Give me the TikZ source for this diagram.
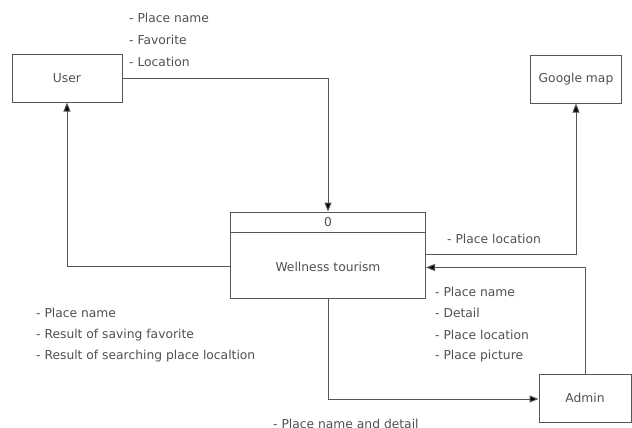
\documentclass[tikz,border=0pt]{standalone}
\usepackage{fontspec}
\setmainfont{DejaVu Sans}
\usetikzlibrary{arrows.meta}
\definecolor{ln}{HTML}{555555}
\definecolor{tx}{HTML}{505050}
\begin{document}
\begin{tikzpicture}[x=1pt,y=-1pt,
  box/.style={draw=ln,line width=1pt,inner sep=0pt},
  lbl/.style={text=tx,font=\fontsize{12.3}{14}\selectfont,anchor=west,inner sep=0pt},
  con/.style={draw=ln,line width=1pt,-{Triangle[length=9pt,width=7pt,fill=black]}},
  txt/.style={text=tx,font=\fontsize{12.3}{14}\selectfont}]
\useasboundingbox (0,0) rectangle (632,428);
\clip (0,0) rectangle (632,428);
% boxes
\node[box,minimum width=110pt,minimum height=47pt] (user) at (67,78.5) {};
\node[txt] at (user.center) {User};
\node[box,minimum width=91pt,minimum height=47pt] (gmap) at (576,79.5) {};
\node[txt] at (gmap.center) {Google map};
\node[box,minimum width=92pt,minimum height=48pt] (admin) at (585,398) {};
\node[txt] at (admin.center) {Admin};
\node[box,minimum width=195pt,minimum height=86pt] (wt) at (328,255) {};
\draw[ln,line width=1pt] (230.5,232) -- (425.5,232);
\node[txt] (wtid) at (328,222.5) {0};
\node[txt] (wtname) at (328,267) {Wellness tourism};
% connectors
\coordinate (c1) at (328,79);
\draw[con] (user.east |- c1) -- (c1) -- (wt.north);
\coordinate (c2) at (67,266);
\draw[con] (wt.west |- c2) -- (c2) -- (user.south);
\coordinate (c3) at (576,254);
\draw[con] (wt.east |- c3) -- (c3) -- (gmap.south);
\coordinate (c4) at (585,267.5);
\draw[con] (admin.north) -- (c4) -- (wt.east |- c4);
\coordinate (c5) at (328,399);
\draw[con] (wt.south) -- (c5) -- (admin.west |- c5);
% labels
\node[lbl] (l1) at (129,18) {- Place name};
\node[lbl] (l2) at (129,40) {- Favorite};
\node[lbl] (l3) at (129,62) {- Location};
\node[lbl] (l4) at (447,238.5) {- Place location};
\node[lbl] (l5) at (435,292) {- Place name};
\node[lbl] (l6) at (435,313) {- Detail};
\node[lbl] (l7) at (435,335) {- Place location};
\node[lbl] (l8) at (435,356) {- Place picture};
\node[lbl] (l9) at (36,313) {- Place name};
\node[lbl] (l10) at (36,335) {- Result of saving favorite};
\node[lbl] (l11) at (36,356.5) {- Result of searching place localtion};
\node[lbl] (l12) at (273,423.5) {- Place name and detail};
\end{tikzpicture}
\end{document}
